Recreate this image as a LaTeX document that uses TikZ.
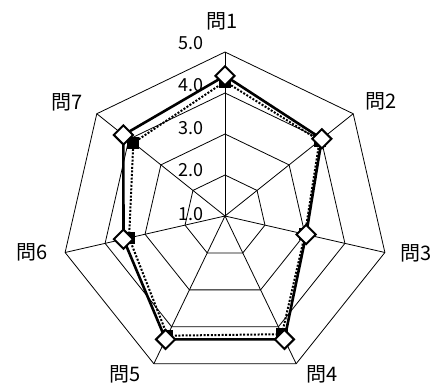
\documentclass[tikz,border=0pt]{standalone}
\usepackage{fontspec}
\setmainfont{Noto Sans CJK JP}
\usetikzlibrary{shapes.geometric}
\pgfdeclarelayer{background}
\pgfsetlayers{background,main}
\begin{document}
\begin{tikzpicture}[x=1pt,y=1pt,
 gridline/.style={line width=0.8pt, black},
 serA/.style={line width=2.6pt, black, line join=round},
 serB/.style={line width=2pt, black, dash pattern=on 2pt off 1.6pt},
 dmark/.style={diamond, draw=black, fill=white, line width=2pt, minimum width=20pt, minimum height=20pt, inner sep=0pt},
 smark/.style={rectangle, fill=black, minimum size=12pt, inner sep=0pt},
 axlab/.style={font=\fontsize{20}{20}\selectfont, inner sep=0pt},
 numlab/.style={font=\fontsize{18}{18}\selectfont, inner sep=0pt, anchor=east}]
\useasboundingbox (0,0) rectangle (433,388);
\begin{pgfonlayer}{background}
\fill[white] (0,0) rectangle (433,388);
\end{pgfonlayer}
\begin{scope}[shift={(225,172)}]
\coordinate (O) at (0,0);
\foreach \k in {1,...,7}{
  \foreach \r in {2,...,5}{
    \coordinate (g\r-\k) at ({90-(\k-1)*360/7}:{41*(\r-1)});
  }
}
\begin{pgfonlayer}{background}
\foreach \r in {2,...,5}{
  \draw[gridline] (g\r-1) -- (g\r-2) -- (g\r-3) -- (g\r-4) -- (g\r-5) -- (g\r-6) -- (g\r-7) -- cycle;
}
\foreach \k in {1,...,7}{ \draw[gridline] (O) -- (g5-\k); }
\end{pgfonlayer}
% series B (squares, dotted)
\foreach \k/\v in {1/4.28,2/3.95,3/3.0,4/4.2,5/4.24,6/3.40,7/3.86}{
  \node[smark] (b\k) at ({90-(\k-1)*360/7}:{41*(\v-1)}) {};
}
% series A (diamonds, solid)
\foreach \k/\v in {1/4.42,2/4.02,3/3.03,4/4.34,5/4.34,6/3.54,7/4.17}{
  \node[dmark] (a\k) at ({90-(\k-1)*360/7}:{41*(\v-1)}) {};
}
\begin{pgfonlayer}{background}
\draw[serB] (b1.center) -- (b2.center) -- (b3.center) -- (b4.center) -- (b5.center) -- (b6.center) -- (b7.center) -- cycle;
\draw[serA] (a1.center) -- (a2.center) -- (a3.center) -- (a4.center) -- (a5.center) -- (a6.center) -- (a7.center) -- cycle;
\end{pgfonlayer}
\end{scope}
% axis labels
\node[axlab] (q1) at (222.5,367) {問1};
\node[axlab] (q2) at (381,287) {問2};
\node[axlab] (q3) at (416,135) {問3};
\node[axlab] (q4) at (322,14) {問4};
\node[axlab] (q5) at (125,14) {問5};
\node[axlab] (q6) at (32.5,136) {問6};
\node[axlab] (q7) at (67.5,286) {問7};
% scale labels
\node[numlab] (n5) at (204,345) {5.0};
\node[numlab] (n4) at (204,303) {4.0};
\node[numlab] (n3) at (204,260) {3.0};
\node[numlab] (n2) at (204,218) {2.0};
\node[numlab] (n1) at (204,173.5) {1.0};
\end{tikzpicture}
\end{document}
